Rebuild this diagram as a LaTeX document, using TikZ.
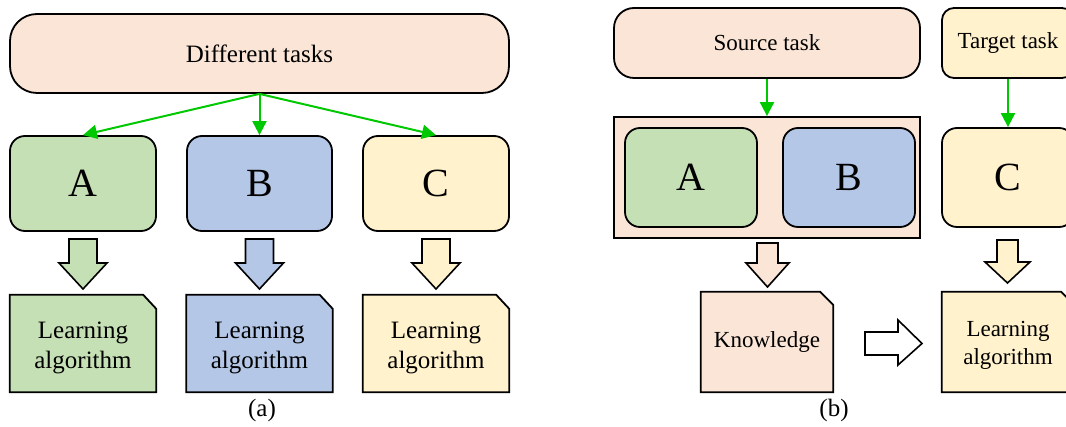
\documentclass[tikz,border=0pt]{standalone}
\usepackage{fontspec}
\setmainfont{Liberation Serif}
\usetikzlibrary{arrows.meta,calc}
\definecolor{peach}{HTML}{FBE5D6}
\definecolor{lgreen}{HTML}{C5E0B4}
\definecolor{lblue}{HTML}{B4C7E7}
\definecolor{lyellow}{HTML}{FFF2CC}
\definecolor{arrgreen}{HTML}{00C800}
\tikzset{
  box/.style={draw=black, line width=1.8pt, rounded corners=15pt, inner sep=0pt, align=center},
  taskbox/.style={box, font=\fontsize{25}{28}\selectfont},
  letterbox/.style={box, font=\fontsize{40}{44}\selectfont},
  docshape/.style={draw=none, inner sep=0pt, align=center},
  docline/.style={draw=black, line width=1.8pt, line join=miter},
  flow/.style={draw=arrgreen, line width=2pt, -{Triangle[length=14pt,width=14pt]}},
  block/.style={draw=black, line width=1.6pt, line join=miter},
  captext/.style={font=\fontsize{25}{28}\selectfont}
}
\newcommand{\blkdown}[5]{% x, ytop, yhead, ytip, fill
  \draw[block, fill=#5] (#1-14,#2) -- (#1+14,#2) -- (#1+14,#3) -- (#1+24,#3) -- (#1,#4) -- (#1-24,#3) -- (#1-14,#3) -- cycle;}
\begin{document}
\begin{tikzpicture}[x=1pt,y=-1pt]
\clip (0,0) rectangle (1066,427);
% ---------- (a) ----------
\node[taskbox, fill=peach, rounded corners=27pt, minimum width=499pt, minimum height=79pt] (diff) at (259.5,53.5) {Different tasks};
\node[letterbox, fill=lgreen, minimum width=146pt, minimum height=95pt] (A) at (83,183.5) {A};
\node[letterbox, fill=lblue, minimum width=145pt, minimum height=95pt] (B) at (259.5,183.5) {B};
\node[letterbox, fill=lyellow, minimum width=146pt, minimum height=95pt] (C) at (436,183.5) {C};
\draw[flow] (diff.south) -- (A.north);
\draw[flow] (diff.south) -- (B.north);
\draw[flow] (diff.south) -- (C.north);
\foreach \n/\x/\col in {LA/83/lgreen, LB/259.5/lblue, LC/436/lyellow}{
  \node[docshape, minimum width=146pt, minimum height=97pt] (\n) at (\x,343.5) {};
  \draw[docline, fill=\col] (\n.south west) -- (\n.north west) -- ([xshift=-13pt]\n.north east) -- ([yshift=-14pt]\n.north east) -- (\n.south east) -- cycle;
  \node[font=\fontsize{25}{30}\selectfont, align=center] at ([yshift=-4pt]\n.center) {Learning\\algorithm};
}
\blkdown{83}{239}{263}{289}{lgreen}
\blkdown{259.5}{239}{263}{289}{lblue}
\blkdown{436}{239}{263}{289}{lyellow}
\node[captext] (capa) at (262,410) {(a)};
% ---------- (b) ----------
\node[taskbox, fill=peach, rounded corners=20pt, minimum width=306pt, minimum height=70pt, font=\fontsize{23}{26}\selectfont] (src) at (767,43) {Source task};
\node[draw=black, line width=1.8pt, fill=peach, minimum width=306pt, minimum height=121pt] (big) at (767,177.5) {};
\node[letterbox, fill=lgreen, minimum width=132pt, minimum height=99pt] (A2) at (691,177.5) {A};
\node[letterbox, fill=lblue, minimum width=132pt, minimum height=99pt] (B2) at (849,177.5) {B};
\node[taskbox, fill=lyellow, rounded corners=12pt, minimum width=132pt, minimum height=70pt, font=\fontsize{23}{26}\selectfont] (tgt) at (1008,43) {Target task};
\node[letterbox, fill=lyellow, minimum width=132pt, minimum height=99pt] (C2) at (1008,177.5) {C};
\draw[flow] (src.south) -- (big.north);
\draw[flow] (tgt.south) -- (C2.north);
\node[docshape, minimum width=132pt, minimum height=100pt] (K) at (767,342) {};
\draw[docline, fill=peach] (K.south west) -- (K.north west) -- ([xshift=-13pt]K.north east) -- ([yshift=-13pt]K.north east) -- (K.south east) -- cycle;
\node[font=\fontsize{23}{26}\selectfont] at (K) {Knowledge};
\node[docshape, minimum width=132pt, minimum height=100pt] (LT) at (1008,342) {};
\draw[docline, fill=lyellow] (LT.south west) -- (LT.north west) -- ([xshift=-13pt]LT.north east) -- ([yshift=-13pt]LT.north east) -- (LT.south east) -- cycle;
\node[font=\fontsize{23}{28}\selectfont, align=center] at ([yshift=-3pt]LT.center) {Learning\\algorithm};
\draw[block, fill=peach] (757,243) -- (778,243) -- (778,263) -- (789,263) -- (767.5,287) -- (746,263) -- (757,263) -- cycle;
\draw[block, fill=lyellow] (997,240) -- (1018,240) -- (1018,262) -- (1030,262) -- (1007.5,283) -- (985,262) -- (997,262) -- cycle;
\draw[block, fill=white] (865,332) -- (898,332) -- (898,320) -- (922,343.5) -- (898,365) -- (898,355) -- (865,355) -- cycle;
\node[captext] (capb) at (834,410) {(b)};
\end{tikzpicture}
\end{document}
